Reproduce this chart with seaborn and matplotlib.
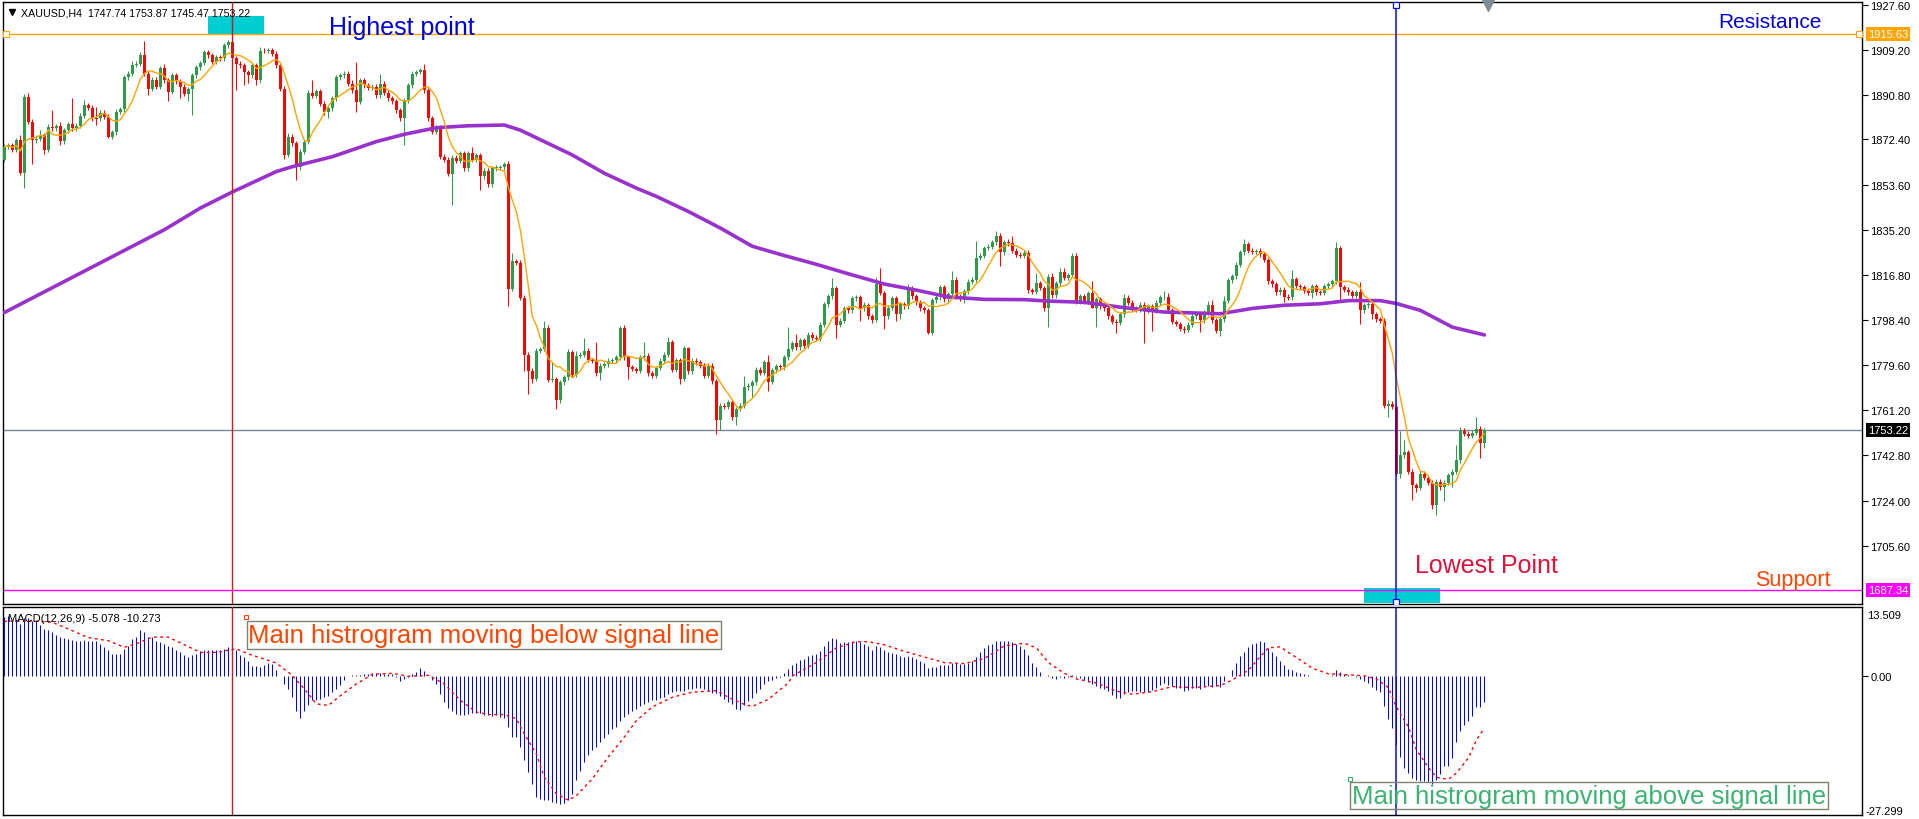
import numpy as np
import pandas as pd
import matplotlib
matplotlib.use("Agg")
import matplotlib.pyplot as plt
import matplotlib.transforms as mtransforms
from matplotlib.patches import Rectangle
from matplotlib.lines import Line2D
import seaborn as sns

# ---------------- data (XAUUSD H4) ----------------
first_open = 1864.0
close = [
    1869.4, 1870.1, 1868.1, 1872.1, 1858.5, 1889.9, 1879.6, 1872.1, 1872.6, 1874.2,
    1868.1, 1877.6, 1876.9, 1877.9, 1871.7, 1876.2, 1878.6, 1876.9, 1878.0, 1882.1,
    1886.5, 1885.4, 1881.3, 1881.0, 1883.3, 1881.7, 1873.5, 1875.3, 1883.7, 1884.8,
    1898.0, 1899.4, 1903.1, 1903.5, 1907.2, 1899.4, 1893.3, 1896.9, 1894.0, 1901.7,
    1896.7, 1891.9, 1898.7, 1896.3, 1894.0, 1891.2, 1893.0, 1898.7, 1902.1, 1903.8,
    1908.3, 1906.9, 1904.2, 1906.2, 1905.8, 1911.0, 1912.4, 1905.8, 1903.5, 1902.8,
    1900.1, 1898.7, 1902.8, 1896.7, 1908.9, 1908.7, 1909.0, 1907.6, 1902.8, 1893.3,
    1866.0, 1873.5, 1870.8, 1861.2, 1867.4, 1871.5, 1891.6, 1890.3, 1892.2, 1887.1,
    1883.7, 1885.1, 1889.2, 1898.0, 1898.7, 1899.4, 1895.3, 1892.6, 1887.8, 1896.7,
    1894.6, 1893.7, 1894.0, 1890.5, 1895.3, 1891.6, 1889.2, 1888.1, 1884.4, 1881.0,
    1888.5, 1894.6, 1899.4, 1900.1, 1900.8, 1892.6, 1881.0, 1875.6, 1877.2, 1865.3,
    1864.0, 1858.3, 1864.9, 1863.6, 1866.7, 1860.6, 1866.7, 1864.0, 1866.0, 1857.2,
    1859.5, 1854.0, 1860.6, 1860.8, 1861.0, 1862.2, 1810.8, 1822.4, 1821.7, 1807.4,
    1784.0, 1777.4, 1774.0, 1785.6, 1786.3, 1795.1, 1773.6, 1774.0, 1765.2, 1772.6,
    1774.7, 1784.9, 1775.8, 1783.6, 1784.0, 1785.6, 1781.8, 1781.5, 1776.3, 1779.5,
    1780.1, 1781.5, 1781.8, 1782.9, 1795.1, 1782.9, 1778.8, 1778.1, 1777.4, 1782.9,
    1783.6, 1776.3, 1775.4, 1778.5, 1781.5, 1784.0, 1789.0, 1777.7, 1781.8, 1774.0,
    1786.7, 1777.1, 1781.5, 1780.8, 1779.5, 1775.4, 1779.5, 1773.1, 1757.0, 1763.1,
    1762.7, 1764.5, 1758.3, 1761.7, 1763.1, 1770.6, 1771.3, 1772.6, 1777.9, 1776.5,
    1780.9, 1772.9, 1777.6, 1779.3, 1778.8, 1782.9, 1786.3, 1788.8, 1787.1, 1790.0,
    1787.6, 1792.1, 1790.9, 1790.5, 1796.3, 1804.7, 1808.0, 1811.4, 1796.3, 1798.0,
    1803.0, 1802.2, 1807.2, 1807.5, 1803.0, 1804.2, 1799.7, 1798.3, 1813.0, 1809.3,
    1799.7, 1803.3, 1807.2, 1800.5, 1804.7, 1803.8, 1811.4, 1808.0, 1805.5, 1803.0,
    1802.2, 1793.0, 1806.3, 1807.5, 1811.7, 1806.7, 1808.8, 1814.7, 1808.0, 1807.2,
    1810.0, 1813.9, 1814.7, 1823.9, 1824.7, 1827.8, 1828.4, 1830.1, 1832.8, 1826.1,
    1830.1, 1829.7, 1826.7, 1825.1, 1824.7, 1825.9, 1810.5, 1809.9, 1813.4, 1811.4,
    1803.3, 1816.0, 1808.3, 1813.4, 1818.0, 1815.5, 1816.7, 1824.7, 1806.0, 1808.0,
    1805.8, 1809.3, 1803.3, 1806.7, 1803.8, 1803.0, 1799.7, 1797.6, 1797.1, 1800.5,
    1807.3, 1805.4, 1803.0, 1802.7, 1804.5, 1802.2, 1803.8, 1802.2, 1805.4, 1807.5,
    1807.8, 1802.2, 1797.4, 1796.6, 1794.7, 1794.2, 1796.3, 1799.8, 1800.6, 1798.2,
    1801.4, 1804.3, 1798.2, 1793.7, 1798.5, 1806.2, 1814.5, 1816.1, 1820.9, 1826.1,
    1829.3, 1826.6, 1826.2, 1826.4, 1825.3, 1822.9, 1814.2, 1812.9, 1809.7, 1810.6,
    1807.8, 1807.5, 1815.0, 1812.2, 1811.8, 1810.2, 1809.4, 1812.2, 1809.7, 1809.3,
    1812.2, 1812.9, 1814.2, 1827.7, 1811.8, 1810.6, 1809.7, 1808.1, 1809.7, 1802.2,
    1804.3, 1804.6, 1800.6, 1798.5, 1797.9, 1763.1, 1763.9, 1762.7, 1735.1, 1742.6,
    1743.9, 1735.9, 1730.3, 1729.4, 1735.1, 1733.5, 1731.4, 1722.3, 1731.9, 1729.5,
    1731.4, 1734.6, 1735.9, 1740.7, 1752.7, 1751.6, 1750.6, 1751.9, 1753.5, 1747.7,
    1753.2,
]
upper_wick = [
    1, 1, 1, 1, 2.1, 1, 1.5, 1, 1.5, 2,
    1, 1, 6.8, 1, 1.5, 1, 1, 11, 1, 1,
    2, 1, 1, 4.5, 1, 1, 1, 1, 1, 1,
    1, 1, 1.5, 1, 1, 5.8, 1, 1, 1, 1,
    1.5, 1, 1, 1, 1, 1, 1, 1, 1, 1,
    1, 1, 1, 1, 1, 1, 1, 1.8, 1, 1,
    1, 1, 1, 1, 1.5, 1, 1, 1, 1, 1,
    1, 1.5, 1, 1, 1, 1, 1, 5.1, 1, 1,
    1, 1, 1, 1, 1, 1, 1, 1.4, 11.5, 1,
    1, 1, 1, 1, 4.1, 1, 1, 1, 1, 1,
    1, 1, 1, 1, 1, 2.7, 1, 1, 1, 1,
    1, 1, 1, 1, 1, 1, 1, 2.7, 1, 1,
    1, 1, 1, 1, 1, 1, 1.4, 3.4, 1, 1,
    1, 1, 1, 1, 1, 2.8, 1, 6.8, 1, 1,
    1, 1.5, 1, 2, 1, 5.4, 1, 1, 7.5, 1,
    1, 1, 1, 1, 0.7, 1, 1, 1, 1, 1,
    5.4, 1, 1, 1, 1, 1, 2.3, 1, 1, 1,
    1, 0.5, 1, 1, 1, 1, 1, 1, 1, 1,
    1, 1, 1, 1, 1, 4.8, 1, 1, 1, 1,
    1, 2.9, 1, 1, 1, 1, 9.2, 1, 3.8, 1,
    1, 1, 1, 1, 1, 1, 1, 4.1, 1, 1,
    1, 1, 1, 1, 1, 1.5, 1, 1, 3, 6.4,
    1, 1, 1, 1, 1, 1, 1.5, 1, 1, 1,
    1, 1, 1, 1, 1, 1, 1, 3.7, 1, 1,
    1, 1, 1, 6.7, 1, 1, 1, 1, 2, 1,
    1, 1.5, 3.1, 1, 1, 1, 1, 1, 4.3, 1,
    1, 1, 1.5, 1, 1.4, 1.4, 1, 0.9, 1, 1,
    1, 1, 5.1, 1, 1, 1, 1, 1, 1, 1,
    1.7, 1, 1, 1, 1, 1, 1, 1, 1, 1,
    2.4, 1.5, 1, 1, 1, 1, 1, 1, 1, 1,
    1, 1.9, 2.2, 1, 1, 2, 1, 1, 1, 1,
    2.1, 1, 1, 1, 1.5, 1, 1, 1, 1, 1,
    1, 1, 3.6, 1, 1, 1, 1, 1, 1, 1,
    1, 1, 1, 2.4, 1, 1, 1, 1, 1, 4.1,
    1, 1, 1, 1, 1, 1, 1.5, 1, 1, 10.1,
    5.1, 1, 1, 1, 1.5, 1, 1, 1, 1, 1,
    1, 1, 1, 6.4, 1.5, 1, 1, 1, 4.8, 1,
    0.7,
]
lower_wick = [
    1, 1, 1, 1, 0.7, 6.1, 1, 9.8, 1, 1,
    1.5, 1, 1, 1, 1.5, 1, 1, 1, 1, 1,
    1, 1, 1.5, 2.7, 1, 1, 0.5, 1, 1, 1,
    1, 1, 1, 1, 1, 1, 2.5, 1, 1, 1,
    1, 3.8, 1, 1, 4.5, 1, 3, 10.7, 1, 1,
    1, 1, 1, 1, 1, 1, 1, 1, 10.9, 1,
    5.5, 3, 1, 2.1, 1, 1, 1, 1, 1, 1,
    1.5, 1, 1, 5.4, 1.3, 1, 1, 1, 1, 1,
    1.4, 2.7, 1, 1, 1, 1, 1, 1, 4.1, 1,
    1, 1, 1, 1, 1, 1, 1, 1, 1, 1,
    10.9, 1, 1, 1, 1, 1, 1, 1, 1, 1,
    1, 1, 12.7, 1, 1, 1, 1, 1, 1, 5.5,
    1, 1, 1, 1, 1, 1, 6.8, 0.7, 1, 1,
    6.6, 9.5, 1.5, 1, 1, 1, 1, 1, 3.5, 1,
    1, 1, 1, 1, 1, 1, 1, 1, 1, 2.9,
    1, 1, 1, 1, 1, 1, 4.8, 1, 1, 1,
    1, 1, 1, 1, 1, 1, 1, 1, 1, 2.1,
    1, 1, 1, 1, 1, 1, 1, 1, 5.5, 3.8,
    1, 1, 1, 3.3, 1, 1, 1, 4.8, 1, 1,
    1, 3.7, 1, 1, 1, 1, 1, 1, 1, 1,
    1, 1, 1, 1, 1, 1, 1, 1, 5.3, 1,
    1, 1, 1, 1, 5, 1, 1, 1.5, 1, 1,
    5.1, 1, 1, 2.5, 2, 1, 1, 1, 1, 1,
    1, 0.4, 0.9, 1, 1, 1, 1, 1, 1, 1,
    2, 1, 1, 1, 1, 1, 1, 1, 1, 5.5,
    1, 1, 1, 1, 1, 1, 1, 1, 1, 1,
    1.5, 7.8, 1, 1, 1, 1, 1, 1, 1, 1,
    1, 1, 0.3, 7.8, 1, 1, 1, 1, 4.1, 1,
    1, 1, 1, 1, 1, 13.6, 1, 8.5, 1, 1,
    1, 1, 1, 1, 1, 1.5, 1, 1, 1, 4.8,
    1, 1, 1, 1, 2.2, 1, 1, 1, 1, 1,
    1, 1, 1, 1, 1, 1, 1, 1, 1, 1,
    2, 1, 1, 1, 1, 1, 1, 2, 1, 1,
    1, 1, 1, 1, 5.3, 1, 1, 1, 1, 5.6,
    1, 1, 2, 1, 1, 1, 4.5, 1, 1, 1.6,
    1, 1, 5.9, 2, 1, 1, 1, 1.5, 4, 1,
    5.6, 1, 4.9, 1, 1, 1, 1, 1, 1, 6.2,
    2.2,
]

# slow moving average (purple), read at selected bars
ma_slow_bar = [0, 10, 20, 30, 40, 49, 57, 68, 72, 82,
               93, 100, 108, 116, 125, 129, 135, 142, 150, 158,
               163, 171, 179, 187, 195, 203, 211, 220, 228, 236,
               245, 255, 261, 270, 279, 290, 304, 312, 320, 329,
               336, 344, 348, 354, 362, 370]
ma_slow_val = [1801.3, 1809.8, 1818.3, 1826.8, 1835.3, 1844.2, 1850.8, 1859.2, 1861.2, 1865.3,
               1871.5, 1874.5, 1877.2, 1878.0, 1878.3, 1876.2, 1871.5, 1866.0, 1858.5, 1852.4,
               1849.0, 1842.8, 1836.0, 1828.5, 1824.7, 1821.1, 1817.2, 1813.0, 1810.5, 1807.7,
               1806.7, 1806.6, 1806.0, 1805.5, 1803.5, 1801.5, 1800.8, 1803.0, 1804.3, 1804.9,
               1806.2, 1806.2, 1805.0, 1802.2, 1795.3, 1792.1]
fast_period = 7

# MACD(12,26,9) main histogram, one value per bar
macd_main = [
    11.5, 11.8, 11.0, 11.2, 10.1, 11.3, 11.3, 10.8, 10.7, 9.9,
    9.2, 8.9, 8.6, 8.1, 7.6, 7.5, 7.3, 7.1, 6.8, 6.8,
    7.1, 6.9, 6.9, 6.8, 6.3, 5.6, 5.1, 4.3, 4.3, 4.3,
    5.3, 5.9, 7.3, 7.7, 8.9, 8.6, 7.6, 7.7, 6.9, 6.6,
    6.3, 5.8, 5.6, 5.1, 4.6, 4.0, 3.7, 4.0, 4.3, 4.8,
    5.0, 5.1, 5.1, 5.0, 5.1, 5.3, 5.6, 5.5, 5.0, 4.0,
    3.7, 2.9, 2.0, 2.0, 1.8, 2.2, 2.5, 2.4, 1.2, -0.1,
    -1.6, -2.5, -4.2, -6.9, -8.2, -6.8, -5.8, -4.8, -4.8, -4.5,
    -4.2, -3.9, -3.2, -2.5, -1.7, -0.9, -0.1, 0.1, 0.1, 0.1,
    0.3, 0.4, 0.5, 0.5, 0.5, 0.4, 0.3, 0.3, -0.3, -1.0,
    -0.7, -0.3, 0.3, 0.7, 1.6, 1.0, -0.1, -0.8, -1.6, -3.5,
    -5.2, -6.3, -6.9, -7.5, -7.6, -7.6, -7.5, -7.3, -7.3, -7.3,
    -7.6, -7.6, -7.8, -7.6, -8.1, -8.2, -10.1, -12.0, -12.0, -14.0,
    -16.6, -18.9, -21.2, -23.8, -24.1, -24.4, -24.4, -24.8, -25.0, -25.2,
    -25.0, -24.4, -23.1, -20.5, -18.6, -16.9, -15.6, -14.6, -13.9, -13.0,
    -12.2, -11.4, -10.4, -10.1, -8.8, -8.1, -7.5, -6.9, -6.5, -6.0,
    -5.5, -5.2, -4.8, -4.7, -4.3, -4.1, -3.5, -3.2, -3.0, -2.9,
    -2.9, -2.5, -2.5, -2.4, -2.4, -2.5, -2.9, -3.4, -3.4, -3.9,
    -4.5, -5.2, -5.5, -6.5, -6.7, -5.8, -5.0, -4.3, -3.4, -2.6,
    -1.6, -1.1, -0.8, -0.5, -0.2, 0.5, 1.3, 2.1, 2.6, 3.2,
    3.4, 3.8, 4.0, 4.3, 4.8, 5.9, 6.9, 7.5, 7.2, 6.4,
    6.7, 6.7, 6.9, 6.8, 6.7, 6.3, 5.9, 5.1, 5.9, 5.6,
    5.1, 4.7, 4.5, 4.3, 3.8, 3.7, 3.8, 3.7, 3.4, 2.9,
    2.6, 1.6, 1.8, 1.8, 2.1, 2.2, 2.2, 2.6, 2.6, 2.4,
    2.4, 2.6, 3.0, 3.7, 4.7, 5.5, 6.1, 6.3, 6.9, 6.9,
    6.9, 6.9, 6.7, 6.3, 5.9, 5.3, 4.0, 2.6, 1.8, 0.8,
    0.0, 0.1, -0.5, -0.7, -0.3, -0.5, -0.2, 0.2, -0.3, -0.4,
    -0.8, -1.2, -1.5, -1.9, -2.4, -2.6, -3.0, -3.7, -4.3, -4.4,
    -3.6, -3.1, -2.9, -2.9, -3.1, -3.1, -3.1, -2.7, -2.3, -1.7,
    -1.4, -1.7, -1.9, -2.3, -2.3, -2.9, -2.7, -2.3, -2.3, -2.5,
    -2.1, -2.0, -2.1, -1.9, -2.1, -1.1, 0.0, 1.1, 2.5, 3.8,
    4.7, 5.7, 6.3, 6.5, 6.9, 6.7, 5.5, 4.7, 3.8, 2.9,
    2.1, 1.4, 1.1, 0.8, 0.6, 0.4, 0.2, 0.0, 0.0, 0.0,
    0.0, 0.0, 0.2, 1.1, 0.8, 0.4, 0.2, 0.0, -0.2, -0.6,
    -1.1, -1.4, -2.1, -2.7, -3.2, -6.0, -8.4, -10.3, -13.5, -15.9,
    -18.0, -19.0, -20.1, -20.5, -20.7, -20.7, -20.8, -21.3, -20.5, -19.3,
    -17.6, -17.6, -16.1, -13.0, -10.9, -9.6, -8.8, -7.8, -6.1, -6.1,
    -5.078,
]
# MACD signal line, read at selected bars
signal_bar = [0, 7, 12, 16, 21, 26, 30, 33, 37, 41, 45, 49, 53, 58, 61, 65, 68, 72, 76, 78,
              81, 84, 88, 92, 97, 101, 106, 110, 114, 118, 121, 125, 128, 130, 133, 135, 138, 141,
              143, 147, 151, 155, 158, 162, 167, 172, 178, 181, 185, 187, 191, 196, 197, 203, 208,
              213, 216, 220, 225, 230, 235, 240, 245, 250, 255, 258, 261, 265, 268, 273, 278, 282,
              284, 287, 289, 292, 297, 304, 307, 311, 314, 316, 319, 321, 324, 327, 331, 336, 340,
              343, 346, 348, 351, 353, 356, 358, 361, 363, 366, 368, 370]
signal_val = [10.7, 10.8, 10.5, 9.2, 7.5, 6.9, 5.6, 6.3, 7.6, 7.6, 6.1, 4.6, 4.6, 5.3, 4.3, 3.3, 2.5, 0.1, -3.5, -5.5,
              -5.8, -3.9, -1.6, 0.3, 0.5, -0.1, 0.1, -1.6, -4.8, -7.1, -7.6, -7.6, -8.4, -11.4, -15.3, -19.9, -23.1, -24.4,
              -23.5, -20.2, -15.9, -12.0, -8.8, -6.1, -4.2, -3.2, -2.9, -4.2, -5.6, -6.0, -4.6, -1.4, 0.0, 2.6, 5.5,
              6.7, 6.7, 6.1, 4.8, 3.7, 2.6, 2.4, 3.4, 5.9, 6.4, 5.5, 2.6, 0.5, -0.6, -1.4, -3.0, -3.6,
              -3.4, -3.1, -2.7, -2.1, -2.3, -1.9, -0.8, 1.1, 3.8, 5.5, 5.7, 4.6, 3.1, 1.5, 0.4, 0.2, 0.0,
              -0.6, -2.3, -6.1, -10.0, -14.5, -18.0, -19.9, -20.3, -19.1, -16.1, -12.6, -10.273]

price_ticks = [1927.60, 1909.20, 1890.80, 1872.40, 1853.60, 1835.20, 1816.80,
               1798.40, 1779.60, 1761.20, 1742.80, 1724.00, 1705.60]
resistance = 1915.63
support = 1687.34
bid = 1753.22
macd_top, macd_bottom = 13.509, -27.299
high_bar = 57
low_bar = 348
header = "XAUUSD,H4  1747.74 1753.87 1745.47 1753.22"
macd_label = "MACD(12,26,9) -5.078 -10.273"

# ---------------- styling ----------------
sns.set_theme(style="white")
plt.rcParams["font.family"] = ["Liberation Sans", "DejaVu Sans"]

GREEN = "#2E9B4A"
RED = "#FF0000"
W, H = 1919, 820
fig = plt.figure(figsize=(W / 100, H / 100), dpi=100)
fig.patch.set_facecolor("white")


def px_axes(left, top, right, bottom):
    return fig.add_axes([left / W, 1 - bottom / H, (right - left) / W, (bottom - top) / H])


ax = px_axes(3, 3, 1862, 605)
ax2 = px_axes(3, 608, 1862, 816)
XMIN, XMAX = -0.325, 464.4

n = len(close)
bars = np.arange(n)
c = np.array(close)
o = np.concatenate([[first_open], c[:-1]])
hi = np.maximum(o, c) + np.array(upper_wick)
lo = np.minimum(o, c) - np.array(lower_wick)
cols = np.where(c >= o, GREEN, RED)

# candles
ax.vlines(bars, lo, hi, colors=cols, linewidth=0.72, zorder=3)
body = c - o
body = np.where(np.abs(body) < 0.35, np.where(body >= 0, 0.35, -0.35), body)
ax.bar(bars, body, bottom=o, width=0.75, color=cols, linewidth=0, zorder=4)

# moving averages
fast = pd.Series(close).rolling(fast_period, min_periods=1).mean()
sns.lineplot(x=bars, y=fast.values, ax=ax, color="#FFA500", linewidth=1.0, zorder=6)
sns.lineplot(x=ma_slow_bar, y=ma_slow_val, ax=ax, color="#9932CC", linewidth=2.6, zorder=5)

# horizontal levels
ax.axhline(resistance, color="#FFA500", linewidth=1.0, zorder=2)
ax.axhline(support, color="#FF00FF", linewidth=1.0, zorder=2)
ax.axhline(bid, color="#778899", linewidth=1.0, zorder=2)
ax.plot([0.4, 463.7], [resistance, resistance], linestyle="none", marker="s", markersize=4,
        markerfacecolor="white", markeredgecolor="#FFA500", markeredgewidth=0.8, zorder=7)

# rectangles (annotation objects)
ax.add_patch(Rectangle((50.9, resistance), 14.0, 7.5, facecolor="#00CED1", edgecolor="none", zorder=1))
ax.add_patch(Rectangle((339.9, 1682.0), 19.1, 6.3, facecolor="#00CED1", edgecolor="none", zorder=1))

# vertical markers
for a in (ax, ax2):
    a.axvline(high_bar, color="#C41E1E", linewidth=1.0, zorder=8)
    a.axvline(low_bar, color="#0A0ADC", linewidth=1.1, zorder=8)
ax.plot([low_bar, low_bar], [1927.6, 1682.4], linestyle="none", marker="s", markersize=4,
        markerfacecolor="white", markeredgecolor="#0A0ADC", markeredgewidth=0.9, zorder=9)

# texts on price chart
ax.text(81.2, resistance, "Highest point", color="#0000D8", fontsize=18, va="baseline", ha="left", zorder=10)
ax.text(428.4, 1918.6, "Resistance", color="#0000D8", fontsize=15, va="baseline", ha="left", zorder=10)
ax.text(352.7, 1694.75, "Lowest Point", color="#DC143C", fontsize=18, va="baseline", ha="left", zorder=10)
ax.text(437.7, 1689.2, "Support", color="#FF4500", fontsize=15.5, va="baseline", ha="left", zorder=10)
ax.text((21 - 3) / 1859, 1 - (13 - 3) / 602, header, transform=ax.transAxes, fontsize=7.7,
        va="center", ha="left", color="black", zorder=10)
ax.plot([(11.5 - 3) / 1859], [1 - (12.5 - 3) / 602], transform=ax.transAxes, marker="v",
        markersize=5, color="black", linestyle="none", zorder=10, clip_on=False)

# MACD panel
ax2.vlines(bars, 0, macd_main, colors="#0000FF", linewidth=0.72, zorder=3)
sns.lineplot(x=signal_bar, y=signal_val, ax=ax2, color="#FF0000", linewidth=1.0, zorder=4)
ax2.lines[-1].set_linestyle((0, (2, 2.5)))
ax2.text((7.6 - 3) / 1859, 1 - (619 - 608) / 208, macd_label, transform=ax2.transAxes, fontsize=8,
         va="center", ha="left", color="black", zorder=10)
ax2.text(61.0, 6.65, "Main histrogram moving below signal line", color="#FF4500", fontsize=18.5,
         va="baseline", ha="left", zorder=10,
         bbox=dict(boxstyle="square,pad=0.06", facecolor="none", edgecolor="#808070", linewidth=1.0))
ax2.text(336.9, -24.9, "Main histrogram moving above signal line", color="#3CB371", fontsize=18.5,
         va="baseline", ha="left", zorder=10,
         bbox=dict(boxstyle="square,pad=0.06", facecolor="none", edgecolor="#808070", linewidth=1.0))
ax2.plot([60.5], [11.5], linestyle="none", marker="s", markersize=3, markerfacecolor="white",
         markeredgecolor="#FF4500", markeredgewidth=0.8, zorder=11)
ax2.plot([336.5], [-20.2], linestyle="none", marker="s", markersize=3, markerfacecolor="white",
         markeredgecolor="#3CB371", markeredgewidth=0.8, zorder=11)

# axes formatting
for a in (ax, ax2):
    a.set_xlim(XMIN, XMAX)
    a.set_xticks([])
    a.set_xlabel("")
    a.set_ylabel("")
    a.set_facecolor("white")
    for s in a.spines.values():
        s.set_color("black")
        s.set_linewidth(1.0)
    a.yaxis.tick_right()
    a.tick_params(axis="y", which="both", right=True, left=False, direction="out", length=4,
                  width=0.8, pad=2, labelsize=8, colors="black")

ax.set_ylim(1681.6, 1928.83)
ax.set_yticks(price_ticks)
ax.set_yticklabels([f"{v:.2f}" for v in price_ticks])

ax2.set_ylim(macd_bottom, macd_top)
ax2.set_yticks([0])
ax2.set_yticklabels(["0.00"])
tr2 = mtransforms.blended_transform_factory(ax2.transAxes, ax2.transAxes)
ax2.text(1 + 5 / 1859, 1 - (616 - 608) / 208, f"{macd_top:.3f}", transform=tr2, fontsize=8,
         va="center", ha="left", color="black")
ax2.text(1 + 3 / 1859, 1 - (812 - 608) / 208, f"{macd_bottom:.3f}", transform=tr2, fontsize=8,
         va="center", ha="left", color="black")

# price label boxes on the right scale
trp = mtransforms.blended_transform_factory(ax.transAxes, ax.transData)
for val, bg in ((resistance, "#FFA500"), (bid, "#000000"), (support, "#FF00FF")):
    ax.text(1 + 6 / 1859, val, f"{val:.2f}", transform=trp, fontsize=8, color="white",
            va="center", ha="left", zorder=12, clip_on=False,
            bbox=dict(boxstyle="square,pad=0.18", facecolor=bg, edgecolor="none"))

# chart shift marker
fig.add_artist(Line2D([1488 / W], [1 - 6 / H], marker="v", markersize=8, color="#7F8C95",
                      linestyle="none"))

fig.savefig("out.png", dpi=100, facecolor="white")
